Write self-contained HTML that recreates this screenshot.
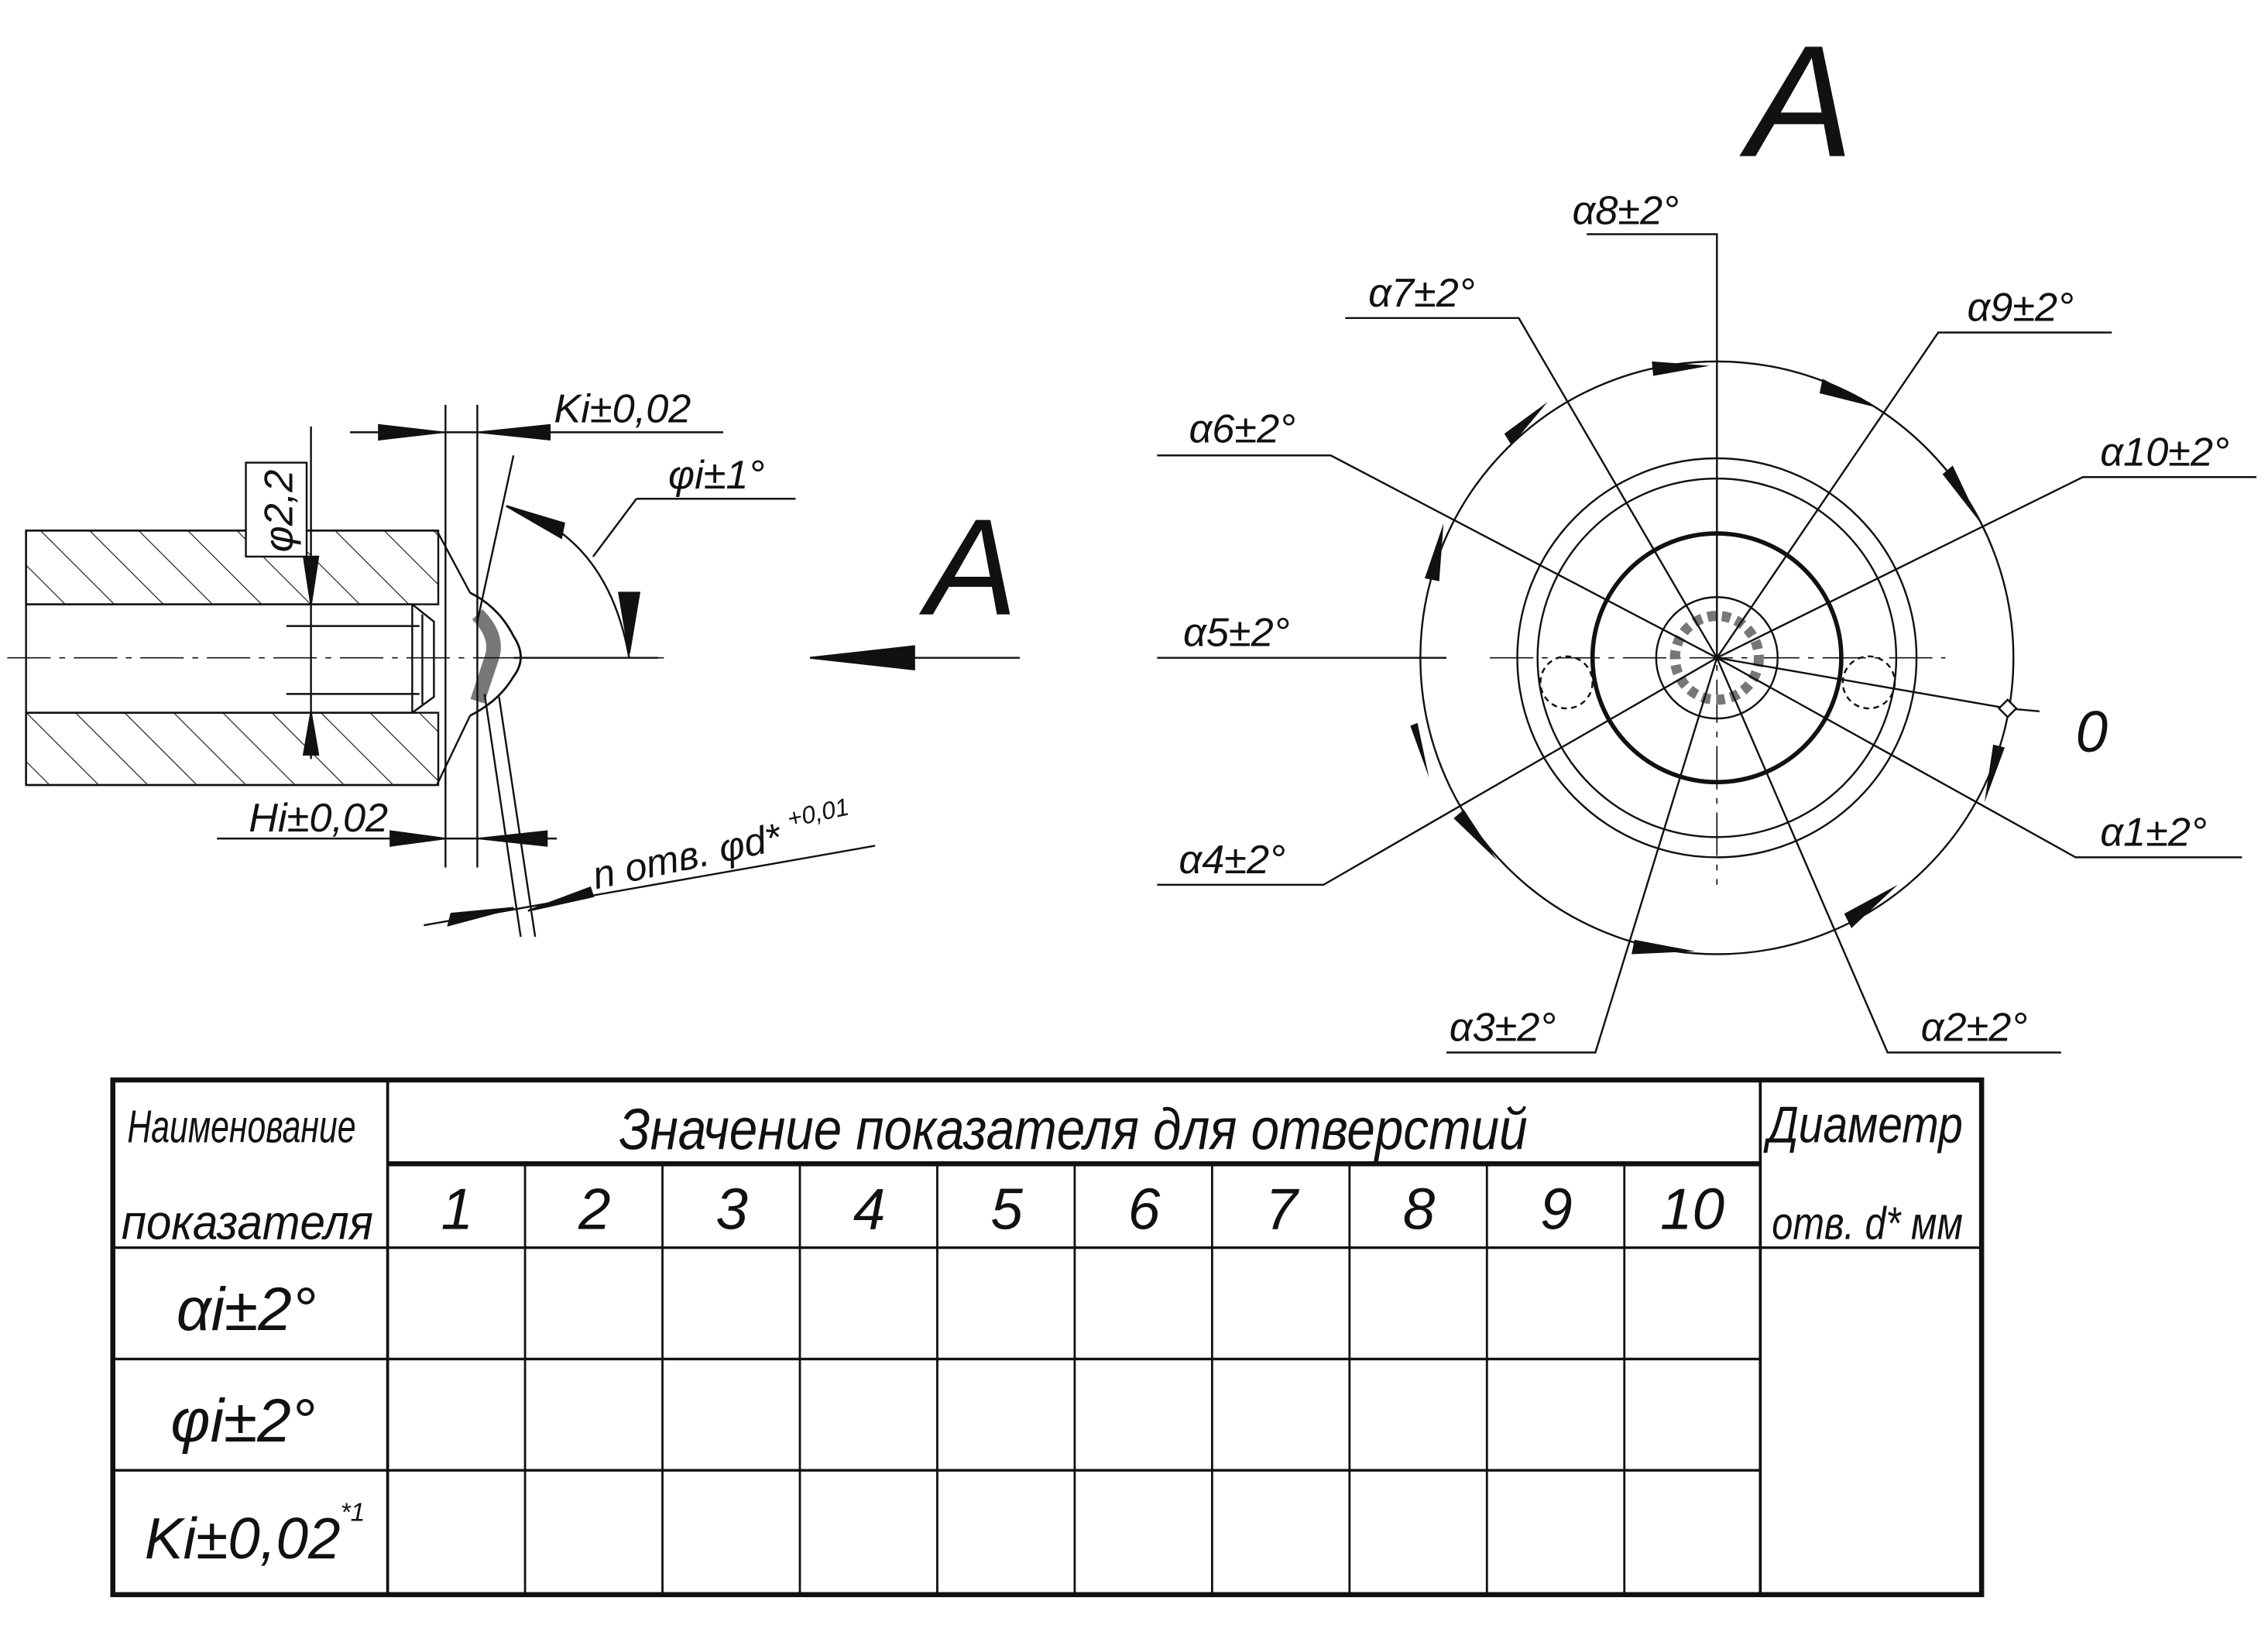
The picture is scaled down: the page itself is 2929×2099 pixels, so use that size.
<!DOCTYPE html>
<html><head><meta charset="utf-8"><style>
html,body{margin:0;padding:0;background:#fff}
svg{display:block}
text{font-family:"Liberation Sans","DejaVu Sans",sans-serif;font-style:italic;fill:#111}
</style></head><body>
<svg width="2929" height="2099" viewBox="0 0 1568 1124" preserveAspectRatio="none" xmlns="http://www.w3.org/2000/svg" stroke="#111" fill="none" stroke-width="1.3">
<defs>
<pattern id="hatch" patternUnits="userSpaceOnUse" width="24" height="24" patternTransform="rotate(-45)"><line x1="0" y1="0" x2="0" y2="24" stroke="#111" stroke-width="1.2"/></pattern>
</defs>
<g>
<rect x="18" y="367" width="285" height="51" fill="url(#hatch)"/>
<rect x="18" y="493" width="285" height="50" fill="url(#hatch)"/>
<path d="M18 367 H302 L325 410 M18 543 H302 L325 495 M18 367 V543 M18 418 H285 V493 H18"/>
<path d="M285 418 L300 430 V482 L285 493 M292 425 V487"/>
<path d="M325 410 Q345 420 355 440 Q365 455 355 468 Q345 485 325 495" stroke-width="1.5"/>
<path d="M330 425 Q345 440 340 455 Q335 470 330 485" stroke="#777" stroke-width="10"/>
<line x1="5" y1="455" x2="460" y2="455" stroke-dasharray="30 6 4 6" stroke-width="0.9"/>
<path d="M308 280 V600 M330 280 V600"/>
<path d="M355 315 L330 430 M335 480 L360 648 M345 482 L370 648"/>
<path d="M242 299 H500 M262 299 L307 299 M380 299 L332 299" />
<path d="M215 295 V525 M198 433 H290 M198 480 H290"/>
<path d="M150 580 H385 M270 580 L307 580 M378 580 L332 580"/>
<path d="M293 640 L605 585"/>
<path d="M440 345 H550 M440 345 L410 385 M350 350 Q420 370 435 455 M355 455 H455"/>
<path d="M560 455 H705"/>
<polygon points="262,294 305,299 262,304" fill="#111"/>
<polygon points="380,294 332,299 380,304" fill="#111"/>
<polygon points="210,385 215,418 220,385" fill="#111"/>
<polygon points="210,522 215,493 220,522" fill="#111"/>
<polygon points="270,575 307,580 270,585" fill="#111"/>
<polygon points="378,575 332,580 378,585" fill="#111"/>
<polygon points="310,640 355,628 312,632" fill="#111"/>
<polygon points="410,620 365,630 408,614" fill="#111"/>
<polygon points="350,350 390,362 388,372" fill="#111"/>
<polygon points="428,410 435,452 442,410" fill="#111"/>
<polygon points="560,455 632,447 632,463" fill="#111"/>
<rect x="170" y="320" width="42" height="65" fill="#fff"/>
<text x="0" y="0" transform="translate(202,382) rotate(-90)" font-size="28" stroke="none">φ2,2</text>
<text x="383" y="292" font-size="28" stroke="none">Ki±0,02</text>
<text x="462" y="338" font-size="28" stroke="none">φi±1°</text>
<text x="172" y="575" font-size="28" stroke="none">Hi±0,02</text>
<text x="0" y="0" transform="translate(412,615) rotate(-12)" font-size="27" stroke="none">n отв. φd* <tspan font-size="17" dy="-14">+0,01</tspan></text>
<text x="640" y="425" font-size="95" stroke="none" font-style="normal">A</text>
</g>
<g>
<text x="1208" y="108" font-size="110" stroke="none">A</text>
<line x1="1187" y1="240" x2="1187" y2="612" stroke-dasharray="30 6 4 6" stroke-width="0.9"/>
<line x1="1030" y1="455" x2="1345" y2="455" stroke-dasharray="30 6 4 6" stroke-width="0.9"/>
<circle cx="1187" cy="455" r="205"/>
<circle cx="1187" cy="455" r="138"/>
<circle cx="1187" cy="455" r="124"/>
<circle cx="1187" cy="455" r="86" stroke-width="3"/>
<circle cx="1187" cy="455" r="42"/>
<circle cx="1187" cy="455" r="29" stroke="#777" stroke-width="7" stroke-dasharray="6 4"/>
<circle cx="1083" cy="472" r="18" stroke-dasharray="4 3"/>
<circle cx="1292" cy="472" r="18" stroke-dasharray="4 3"/>
<path d="M1187 455 L1187 162 H1097 M1187 455 L1050 220 H930 M1187 455 L1340 230 H1460 M1187 455 L920 315 H800 M1187 455 L1440 330 H1560 M1000 455 H800 M1187 455 L915 612 H800 M1187 455 L1435 593 H1550 M1187 455 L1103 728 H1000 M1187 455 L1305 728 H1425 M1187 455 L1388 490 L1410 492"/>
<polygon points="1382,490 1388,484 1394,490 1388,496" fill="#fff"/>
<g fill="#111" stroke="none">
<polygon points="1142,250 1182,253 1143,260"/>
<polygon points="1260,262 1298,282 1258,272"/>
<polygon points="1350,322 1368,360 1343,328"/>
<polygon points="1040,300 1070,278 1045,308"/>
<polygon points="985,400 998,362 995,402"/>
<polygon points="980,500 988,538 975,502"/>
<polygon points="1012,560 1035,595 1005,566"/>
<polygon points="1130,650 1172,658 1128,660"/>
<polygon points="1275,632 1312,612 1280,642"/>
<polygon points="1378,515 1372,555 1386,517"/>
</g>
<g font-size="28" stroke="none">
<text x="1087" y="155">α8±2°</text>
<text x="946" y="212">α7±2°</text>
<text x="1360" y="222">α9±2°</text>
<text x="822" y="306">α6±2°</text>
<text x="1452" y="322">α10±2°</text>
<text x="818" y="447">α5±2°</text>
<text x="815" y="604">α4±2°</text>
<text x="1452" y="585">α1±2°</text>
<text x="1002" y="720">α3±2°</text>
<text x="1328" y="720">α2±2°</text>
<text x="1435" y="520" font-size="40">0</text>
</g>
</g>
<g>
<rect x="78" y="747" width="1292" height="356" stroke-width="3.5"/>
<line x1="268" y1="805" x2="1217" y2="805" stroke-width="3.5"/>
<line x1="78" y1="863" x2="1370" y2="863" stroke-width="1.8"/>
<line x1="78" y1="940" x2="1217" y2="940" stroke-width="1.8"/>
<line x1="78" y1="1017" x2="1217" y2="1017" stroke-width="1.8"/>
<line x1="268" y1="747" x2="268" y2="1103" stroke-width="2"/>
<line x1="1217" y1="747" x2="1217" y2="1103" stroke-width="2"/>
<g stroke-width="1.5">
<line x1="363" y1="805" x2="363" y2="1103"/><line x1="458" y1="805" x2="458" y2="1103"/>
<line x1="553" y1="805" x2="553" y2="1103"/><line x1="648" y1="805" x2="648" y2="1103"/>
<line x1="743" y1="805" x2="743" y2="1103"/><line x1="838" y1="805" x2="838" y2="1103"/>
<line x1="933" y1="805" x2="933" y2="1103"/><line x1="1028" y1="805" x2="1028" y2="1103"/>
<line x1="1123" y1="805" x2="1123" y2="1103"/>
</g>
<g stroke="none">
<text x="88" y="790" font-size="32" textLength="158" lengthAdjust="spacingAndGlyphs">Наименование</text>
<text x="84" y="857" font-size="34" textLength="174" lengthAdjust="spacingAndGlyphs">показателя</text>
<text x="428" y="795" font-size="40" textLength="628" lengthAdjust="spacingAndGlyphs">Значение показателя для отверстий</text>
<text x="1222" y="790" font-size="36" textLength="135" lengthAdjust="spacingAndGlyphs">Диаметр</text>
<text x="1225" y="857" font-size="32" textLength="132" lengthAdjust="spacingAndGlyphs">отв. d* мм</text>
<g font-size="40" text-anchor="middle">
<text x="316" y="850">1</text><text x="411" y="850">2</text><text x="506" y="850">3</text>
<text x="601" y="850">4</text><text x="696" y="850">5</text><text x="791" y="850">6</text>
<text x="886" y="850">7</text><text x="981" y="850">8</text><text x="1076" y="850">9</text>
<text x="1170" y="850">10</text>
</g>
<text x="122" y="920" font-size="42">αi±2°</text>
<text x="118" y="997" font-size="42">φi±2°</text>
<text x="100" y="1078" font-size="40">Ki±0,02<tspan font-size="18" dy="-26">*1</tspan></text>
</g>
</g>
</svg>
</body></html>
